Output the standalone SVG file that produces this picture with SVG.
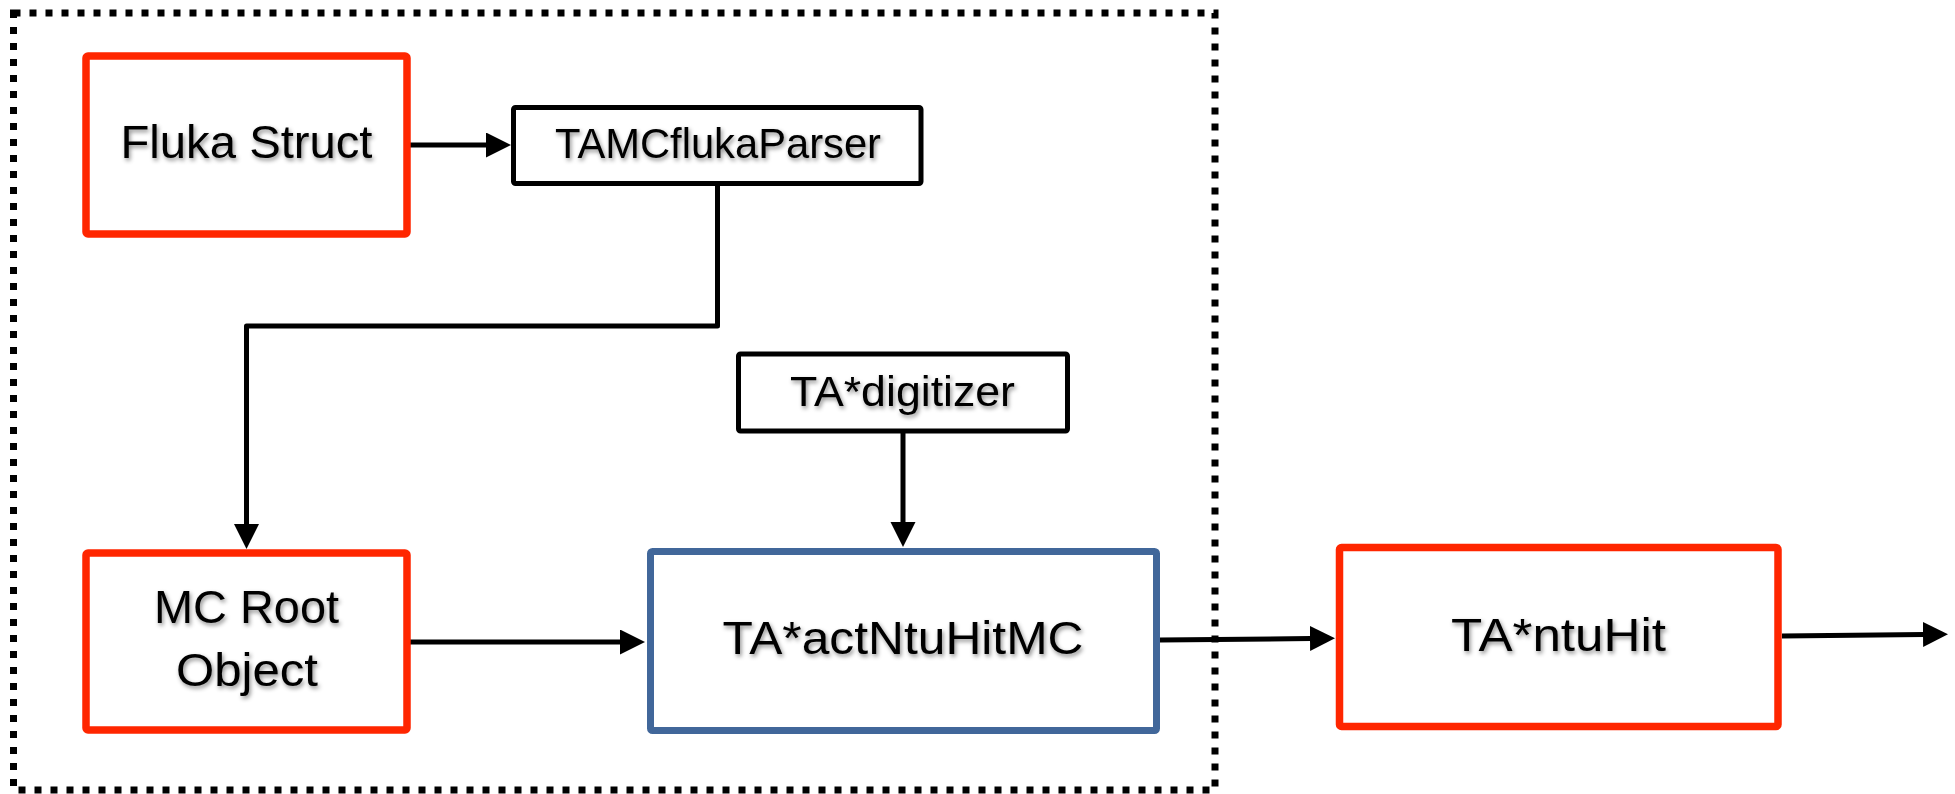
<svg xmlns="http://www.w3.org/2000/svg" width="1955" height="794" viewBox="0 0 1955 794">
  <style>
    .red { fill: #ffffff; stroke: #ff2600; stroke-width: 7.5; stroke-linejoin: round; }
    .blue { fill: #ffffff; stroke: #41679a; stroke-width: 7; stroke-linejoin: round; }
    .blk { fill: #ffffff; stroke: #000000; stroke-width: 5; stroke-linejoin: round; }
    .lbl { font-family: "Liberation Sans", Arial, sans-serif; fill: #000000; text-anchor: middle; filter: url(#shadow); }
    .big { font-size: 47px; }
    .small { font-size: 42px; }
    .conn { fill: none; stroke: #000000; stroke-width: 5; stroke-linejoin: round; }
    .frame { fill: none; stroke: #000000; stroke-width: 7; stroke-dasharray: 7 9; }
  </style>
  <defs>
    <filter id="shadow" x="-10%" y="-30%" width="120%" height="160%">
      <feDropShadow dx="1.5" dy="2.5" stdDeviation="2" flood-color="#000000" flood-opacity="0.45"/>
    </filter>
    <marker id="arrow" markerUnits="userSpaceOnUse" markerWidth="27" markerHeight="27" refX="1" refY="12.5" orient="auto">
      <path d="M0,0 L25,12.5 L0,25 Z" fill="#000000"/>
    </marker>
  </defs>

  <rect width="1955" height="794" fill="#ffffff"/>

  <g id="frame">
    <rect class="frame" x="13.5" y="13" width="1201.5" height="777"/>
  </g>

  <g id="connectors">
    <line class="conn" x1="410" y1="145" x2="487" y2="145" marker-end="url(#arrow)"/>
    <polyline class="conn" points="717.5,186 717.5,326 246.5,326 246.5,525" marker-end="url(#arrow)"/>
    <line class="conn" x1="903" y1="433" x2="903" y2="523" marker-end="url(#arrow)"/>
    <line class="conn" x1="410" y1="642" x2="621" y2="642" marker-end="url(#arrow)"/>
    <line class="conn" x1="1160" y1="640" x2="1311" y2="638.5" marker-end="url(#arrow)"/>
    <line class="conn" x1="1782" y1="636" x2="1924" y2="634.5" marker-end="url(#arrow)"/>
  </g>

  <g id="fluka-struct">
    <rect class="red" x="86" y="56" width="321" height="178" rx="2"/>
    <text class="lbl big" x="246.5" y="158" textLength="252" lengthAdjust="spacingAndGlyphs">Fluka Struct</text>
  </g>

  <g id="tamcflukaparser">
    <rect class="blk" x="513.5" y="107.5" width="407.5" height="76" rx="2"/>
    <text class="lbl small" x="718" y="158" textLength="326" lengthAdjust="spacingAndGlyphs">TAMCflukaParser</text>
  </g>

  <g id="ta-digitizer">
    <rect class="blk" x="738.5" y="354" width="329" height="77" rx="2"/>
    <text class="lbl small" x="902.5" y="406" textLength="225" lengthAdjust="spacingAndGlyphs">TA*digitizer</text>
  </g>

  <g id="mc-root-object">
    <rect class="red" x="86" y="553" width="321" height="177" rx="2"/>
    <text class="lbl big" x="246.5" y="622.5" textLength="185" lengthAdjust="spacingAndGlyphs">MC Root</text>
    <text class="lbl big" x="247" y="685.5" textLength="142" lengthAdjust="spacingAndGlyphs">Object</text>
  </g>

  <g id="ta-actntuhitmc">
    <rect class="blue" x="650.5" y="551.5" width="506" height="179" rx="2"/>
    <text class="lbl big" x="903" y="654" textLength="361" lengthAdjust="spacingAndGlyphs">TA*actNtuHitMC</text>
  </g>

  <g id="ta-ntuhit">
    <rect class="red" x="1339.5" y="547.5" width="438.5" height="179" rx="2"/>
    <text class="lbl big" x="1558.5" y="650.5" textLength="215" lengthAdjust="spacingAndGlyphs">TA*ntuHit</text>
  </g>
</svg>
